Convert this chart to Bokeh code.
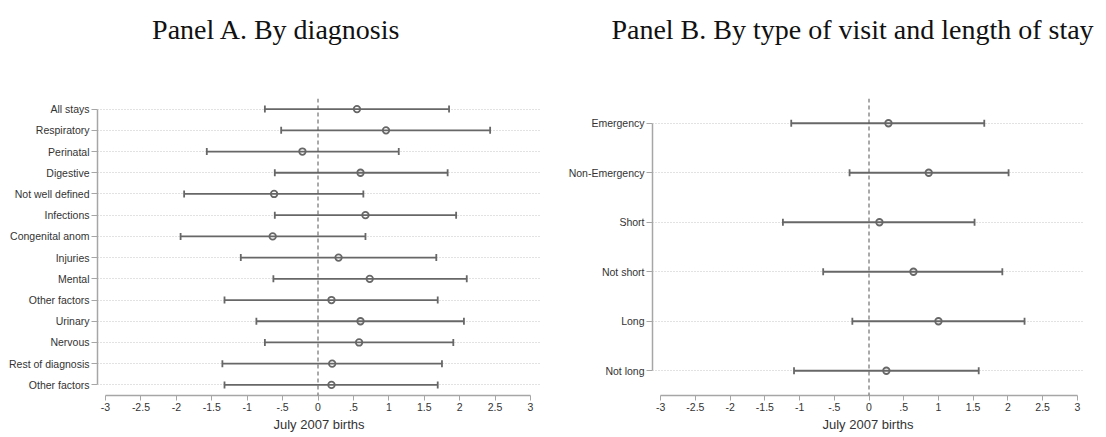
from bokeh.plotting import figure
from bokeh.layouts import row, column
from bokeh.models import (ColumnDataSource, Whisker, TeeHead, Span,
                          FixedTicker, Range1d)
from bokeh.core.properties import value
from bokeh.embed import file_html
from bokeh.resources import INLINE

# Panel A: estimates with 95% CI, by diagnosis
diag_labels = ["All stays", "Respiratory", "Perinatal", "Digestive",
               "Not well defined", "Infections", "Congenital anom", "Injuries",
               "Mental", "Other factors", "Urinary", "Nervous",
               "Rest of diagnosis", "Other factors"]
diag_est = [0.55, 0.96, -0.22, 0.60, -0.62, 0.67, -0.64, 0.29,
            0.73, 0.19, 0.60, 0.58, 0.20, 0.19]
diag_lo = [-0.75, -0.52, -1.57, -0.61, -1.89, -0.61, -1.94, -1.09,
           -0.63, -1.32, -0.87, -0.75, -1.35, -1.32]
diag_hi = [1.85, 2.43, 1.14, 1.83, 0.64, 1.95, 0.67, 1.67,
           2.10, 1.69, 2.06, 1.91, 1.75, 1.69]

# Panel B: by type of visit and length of stay
visit_labels = ["Emergency", "Non-Emergency", "Short", "Not short",
                "Long", "Not long"]
visit_est = [0.28, 0.86, 0.15, 0.64, 1.00, 0.25]
visit_lo = [-1.12, -0.28, -1.24, -0.66, -0.24, -1.08]
visit_hi = [1.66, 2.01, 1.52, 1.92, 2.24, 1.58]

x_ticks = [-3, -2.5, -2, -1.5, -1, -0.5, 0, 0.5, 1, 1.5, 2, 2.5, 3]
x_tick_labels = ["-3", "-2.5", "-2", "-1.5", "-1", "-.5", "0", ".5",
                 "1", "1.5", "2", "2.5", "3"]

titles = ["Panel A. By diagnosis",
          "Panel B. By type of visit and length of stay"]
x_title = "July 2007 births"

SANS = "Liberation Sans"
SERIF = "Liberation Serif"
AXIS_GREY = "#a6a6a6"
MARK_GREY = "#676767"
TEXT = "#333333"

W, H, HEAD_H = 1106, 437, 60


def ci_panel(labels, est, lo, hi, x_range, borders):
    n = len(labels)
    ypos = [n - 1 - i for i in range(n)]
    left, right, top, bottom = borders
    p = figure(width=553, height=H - HEAD_H, output_backend="svg",
               toolbar_location=None, x_range=Range1d(*x_range),
               y_range=Range1d(-0.5, n - 0.5),
               min_border_left=left, min_border_right=right,
               min_border_top=top, min_border_bottom=bottom)
    p.outline_line_color = None
    p.background_fill_color = "white"
    p.border_fill_color = "white"

    src = ColumnDataSource(dict(y=ypos, est=est, lo=lo, hi=hi))

    # horizontal dotted guide per row
    p.xgrid.visible = False
    p.ygrid.ticker = FixedTicker(ticks=ypos)
    p.ygrid.grid_line_color = "#c4c4c4"
    p.ygrid.grid_line_dash = "1 2"
    p.ygrid.grid_line_width = 1

    # reference line at zero
    p.add_layout(Span(location=0, dimension="height", line_color="#555555",
                      line_dash="4 3", line_width=1))

    head = dict(size=7, line_color=MARK_GREY, line_width=1.8)
    p.add_layout(Whisker(source=src, base="y", lower="lo", upper="hi",
                         dimension="width", line_color=MARK_GREY,
                         line_width=1.8, level="glyph",
                         upper_head=TeeHead(**head),
                         lower_head=TeeHead(**head)))
    p.scatter("est", "y", source=src, size=6.5, marker="circle",
              line_color=MARK_GREY, line_width=1.8, fill_color="white",
              fill_alpha=0.0)

    # y axis
    ya = p.yaxis[0]
    ya.ticker = FixedTicker(ticks=ypos)
    ya.major_label_overrides = {y: lab for y, lab in zip(ypos, labels)}
    ya.bounds = (0, n - 1)
    ya.axis_line_color = AXIS_GREY
    ya.axis_line_width = 1.5
    ya.major_tick_line_color = AXIS_GREY
    ya.major_tick_out = 6
    ya.major_tick_in = 0
    ya.minor_tick_line_color = None
    ya.major_label_standoff = 2
    ya.major_label_text_font = SANS
    ya.major_label_text_font_size = "10.5px"
    ya.major_label_text_color = TEXT

    # x axis
    xa = p.xaxis[0]
    xa.ticker = FixedTicker(ticks=x_ticks)
    xa.major_label_overrides = {t: lab for t, lab in zip(x_ticks, x_tick_labels)}
    xa.bounds = (x_ticks[0], x_ticks[-1])
    xa.axis_line_color = AXIS_GREY
    xa.axis_line_width = 1.5
    xa.major_tick_line_color = AXIS_GREY
    xa.major_tick_out = 5
    xa.major_tick_in = 0
    xa.minor_tick_line_color = None
    xa.major_label_standoff = 2
    xa.major_label_text_font = SANS
    xa.major_label_text_font_size = "10.5px"
    xa.major_label_text_color = TEXT
    xa.axis_label = x_title
    xa.axis_label_text_font = SANS
    xa.axis_label_text_font_style = "normal"
    xa.axis_label_text_font_size = "13px"
    xa.axis_label_text_color = TEXT
    xa.axis_label_standoff = 3
    return p


# heading strip with both panel titles
head = figure(width=W, height=HEAD_H, output_backend="svg",
              toolbar_location=None, x_range=Range1d(0, W),
              y_range=Range1d(0, HEAD_H), x_axis_type=None, y_axis_type=None,
              min_border=0)
head.outline_line_color = None
head.grid.visible = False
head.text(x=[276, 852], y=[HEAD_H - 29, HEAD_H - 29], text=titles,
          text_align="center", text_baseline="alphabetic",
          text_font=value(SERIF), text_font_size="28px",
          text_color="#111111")

pa = ci_panel(diag_labels, diag_est, diag_lo, diag_hi,
              (-3.113, 3.141), (97, 13, 88 - HEAD_H, 42))
pb = ci_panel(visit_labels, visit_est, visit_lo, visit_hi,
              (-3.118, 3.089), (99, 23, 98 - HEAD_H, 42))

layout = column(head, row(pa, pb, spacing=0), spacing=0)
open("out.html", "w").write(file_html(layout, INLINE))
